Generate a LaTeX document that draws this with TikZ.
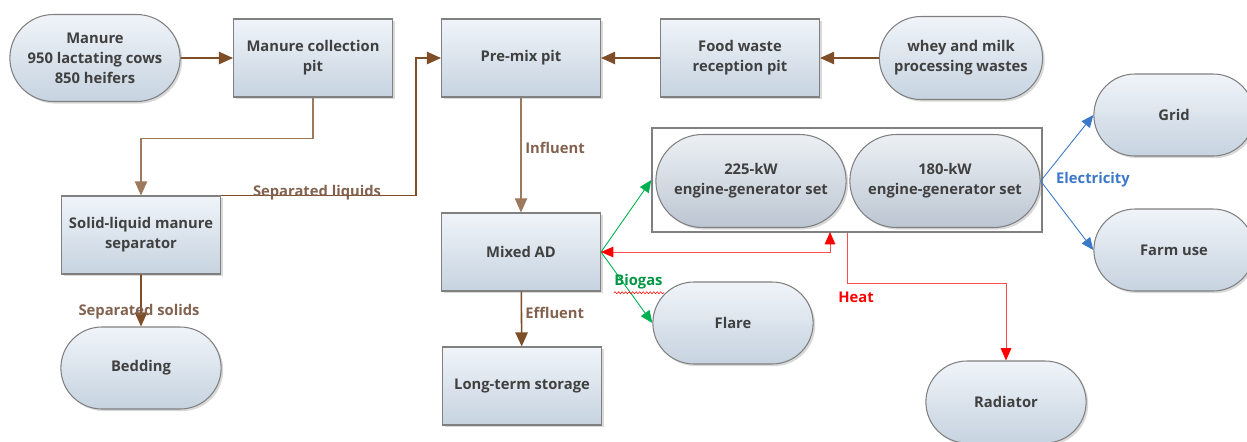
\documentclass[tikz,border=0pt]{standalone}
\usepackage{fontspec}
\setmainfont{Open Sans}
\usetikzlibrary{arrows.meta,shapes.misc,shadows,decorations.pathmorphing}

\definecolor{boxtext}{RGB}{64,64,64}
\definecolor{boxline}{RGB}{128,128,128}
\definecolor{boxtop}{RGB}{240,244,249}
\definecolor{boxbottom}{RGB}{198,211,224}
\definecolor{gentop}{RGB}{236,240,244}
\definecolor{genbottom}{RGB}{188,198,210}
\definecolor{flowbrown}{RGB}{125,78,40}
\definecolor{labelbrown}{RGB}{130,98,78}
\definecolor{gasgreen}{RGB}{0,176,80}
\definecolor{heatred}{RGB}{255,0,0}
\definecolor{elecblue}{RGB}{60,120,200}

\tikzset{
    base/.style = {draw = boxline, line width = 0.6pt, text = boxtext,
        font = \fontsize{8.4}{11.4}\selectfont\bfseries, align = center,
        top color = boxtop, bottom color = boxbottom,
        drop shadow = {shadow xshift = 1.2pt, shadow yshift = -1.2pt, opacity = 0.3}},
    pit/.style = {base, rectangle, minimum width = 3.18cm, minimum height = 1.56cm},
    blob/.style = {base, rounded rectangle, minimum width = 3.44cm, minimum height = 1.64cm},
    gen/.style = {blob, top color = gentop, bottom color = genbottom,
        minimum width = 4.04cm, minimum height = 1.86cm},
    flow/.style = {draw = flowbrown, line width = 0.9pt, -{Triangle[width = 7pt, length = 8pt]}},
    feed/.style = {flow, draw = flowbrown!75, line width = 0.6pt},
    gas/.style = {draw = gasgreen, line width = 0.5pt, -{Triangle[width = 6pt, length = 7pt]}},
    heat/.style = {draw = heatred!70, line width = 0.5pt, -{Triangle[width = 6pt, length = 7pt, color = heatred]}},
    elec/.style = {draw = elecblue, line width = 0.5pt, -{Triangle[width = 6pt, length = 7pt]}},
    tag/.style = {font = \fontsize{8.4}{10}\selectfont\bfseries, inner sep = 0pt}
}

\begin{document}
\begin{tikzpicture}[x = 0.02cm, y = -0.02cm]

    \useasboundingbox (0,0) rectangle (1247,441);

    \node[blob, minimum width = 3.64cm, minimum height = 1.74cm] (manure) at (95,58) {Manure\\950 lactating cows\\850 heifers};
    \node[pit] (mcp) at (313,58) {Manure collection\\pit};
    \node[pit] (premix) at (521,58) {Pre-mix pit};
    \node[pit] (food) at (740,58) {Food waste\\reception pit};
    \node[blob, minimum width = 3.5cm, minimum height = 1.66cm] (whey) at (961,58) {whey and milk\\processing wastes};

    \node[pit] (sep) at (141,235) {Solid-liquid manure\\separator};
    \node[blob] (bed) at (141,368) {Bedding};
    \node[pit] (mad) at (521,252) {Mixed AD};
    \node[pit] (lts) at (522,386) {Long-term storage};
    \node[blob] (flare) at (733,323) {Flare};

    \node[draw = boxline, line width = 0.8pt, minimum width = 7.8cm, minimum height = 2.08cm] (gens) at (847,180) {};
    \node[gen] (g225) at (751,181) {225-kW\\engine-generator set};
    \node[gen] (g180) at (945,181) {180-kW\\engine-generator set};

    \node[blob] (grid) at (1174,115) {Grid};
    \node[blob] (farm) at (1174,250) {Farm use};
    \node[blob] (rad) at (1006,402) {Radiator};

    \coordinate (hx) at (830,232);

    \draw[flow] (manure) -- (mcp);
    \draw[feed] (mcp.south) -- ++(0,41) -| (sep.north);
    \draw[flow] (sep.north east) -- ++(195,0) |- (premix.west);
    \draw[flow] (food) -- (premix);
    \draw[flow] (whey) -- (food);
    \draw[flow] (sep) -- (bed);
    \draw[feed] (premix) -- (mad);
    \draw[flow] (mad) -- (lts);

    \draw[gas] (mad.east) -- (gens.west);
    \draw[gas] (mad.east) -- (flare.west);
    \draw[heat, {Triangle[width = 6pt, length = 7pt, color = heatred]}-{Triangle[width = 6pt, length = 7pt, color = heatred]}] (mad.east) -| (hx);
    \draw[heat] (gens.south) -- ++(0,51) -| (rad.north);
    \draw[elec] (g180.east) -- (grid.west);
    \draw[elec] (g180.east) -- (farm.west);

    \node[tag, text = labelbrown] (liq) at (317,193) {Separated liquids};
    \node[tag, text = labelbrown] (sol) at (139,312) {Separated solids};
    \node[tag, text = labelbrown, anchor = west] (inf) at (525,148) {Influent};
    \node[tag, text = labelbrown, anchor = west] (eff) at (525,313) {Effluent};
    \node[tag, text = gasgreen!85!black, anchor = west] (bio) at (614,282) {Biogas};
    \draw[red, line width = 0.3pt, decorate, decoration = {snake, amplitude = 0.6pt, segment length = 2pt}] (bio.south west) ++(0,3) -- ++(50,0);
    \node[tag, text = heatred] (ht) at (856,297) {Heat};
    \node[tag, text = elecblue] (el) at (1093,180) {Electricity};

\end{tikzpicture}
\end{document}
